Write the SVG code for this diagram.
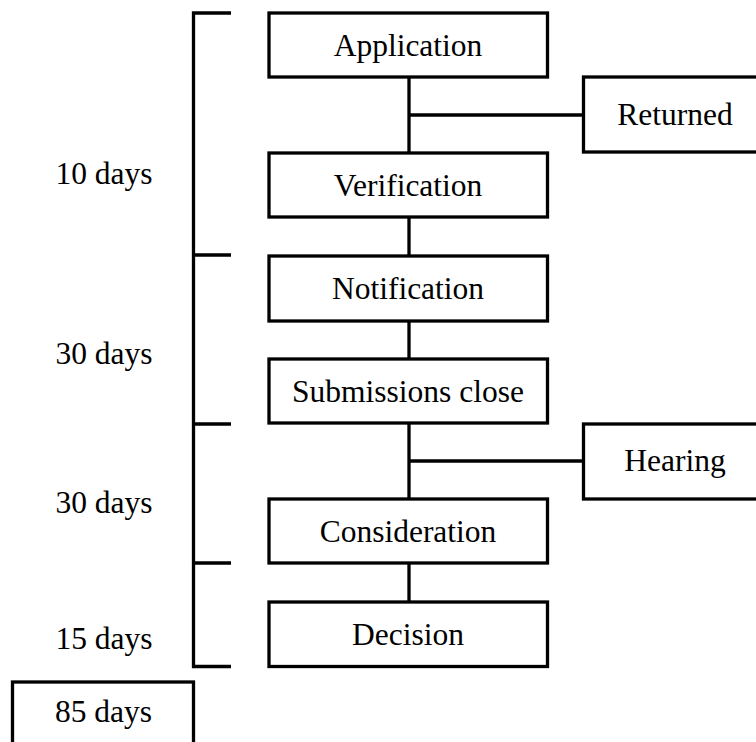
<svg xmlns="http://www.w3.org/2000/svg" width="756" height="742" viewBox="0 0 756 742">
<style>
.box{fill:#fff;stroke:#000;stroke-width:3.3}
.ln{fill:none;stroke:#000;stroke-width:3.3}
text{font-family:"Liberation Serif","Times New Roman",serif;font-size:31.5px;fill:#000;text-anchor:middle}
</style>
<rect width="756" height="742" fill="#fff"/>
<g id="connectors">
<path class="ln" d="M409,77V153M409,217V256M409,321V359M409,423V499M409,563V602M409,115H583M409,461H583"/>
</g>
<g id="bracket">
<path class="ln" d="M231,13H193.5V666.5H231M193.5,255H231M193.5,424H231M193.5,563H231"/>
</g>
<g id="application"><rect class="box" x="269" y="13" width="278.5" height="64"/><text x="408" y="55.5">Application</text></g>
<g id="returned"><rect class="box" x="583.5" y="77" width="184" height="75"/><text x="675" y="124.5">Returned</text></g>
<g id="verification"><rect class="box" x="269" y="153" width="278.5" height="64"/><text x="408" y="195.5">Verification</text></g>
<g id="notification"><rect class="box" x="269" y="256" width="278.5" height="65"/><text x="408" y="298.5">Notification</text></g>
<g id="submissions"><rect class="box" x="269" y="359" width="278.5" height="64"/><text x="408" y="401.5">Submissions close</text></g>
<g id="hearing"><rect class="box" x="583.5" y="424" width="184" height="75"/><text x="675" y="471">Hearing</text></g>
<g id="consideration"><rect class="box" x="269" y="499" width="278.5" height="64"/><text x="408" y="541.5">Consideration</text></g>
<g id="decision"><rect class="box" x="269" y="602" width="278.5" height="64.5"/><text x="408" y="644.5">Decision</text></g>
<g id="labels">
<text x="104" y="183.5">10 days</text>
<text x="104" y="363.5">30 days</text>
<text x="104" y="512.5">30 days</text>
<text x="104" y="649">15 days</text>
</g>
<g id="total"><rect class="box" x="12.5" y="682" width="181" height="66"/><text x="103.5" y="722">85 days</text></g>
</svg>
